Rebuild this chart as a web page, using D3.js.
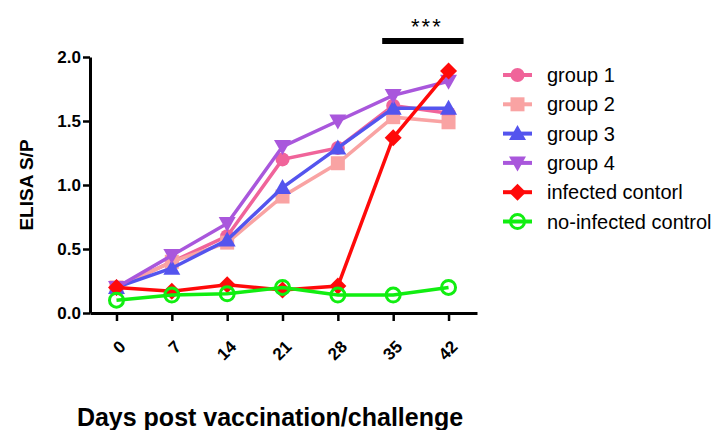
<!DOCTYPE html>
<html>
<head>
<meta charset="utf-8">
<script src="https://cdn.jsdelivr.net/npm/d3@7"></script>
<style>
  body { margin: 0; background: #fff; }
  svg { font-family: "Liberation Sans", Arial, sans-serif; }
</style>
</head>
<body>
<svg id="chart" width="724" height="430"></svg>
<script>
// days post vaccination
var days = [0, 7, 14, 21, 28, 35, 42];
var yTicks = [0, 0.5, 1.0, 1.5, 2.0];

var group1 = [0.20, 0.40, 0.60, 1.20, 1.29, 1.62, 1.56];
var group2 = [0.20, 0.40, 0.55, 0.91, 1.17, 1.53, 1.49];
var group3 = [0.20, 0.35, 0.57, 0.98, 1.29, 1.60, 1.60];
var group4 = [0.20, 0.45, 0.70, 1.30, 1.50, 1.70, 1.81];
var infected = [0.20, 0.17, 0.22, 0.18, 0.21, 1.37, 1.89];
var noInfected = [0.10, 0.14, 0.15, 0.20, 0.14, 0.14, 0.20];

var seriesNames = ["group 1", "group 2", "group 3", "group 4", "infected contorl", "no-infected control"];
var sigRange = [35, 42];
var sigLabel = "***";

var series = [
  {name: seriesNames[0], values: group1, color: "#f0649a", shape: "circle"},
  {name: seriesNames[1], values: group2, color: "#f9a3a3", shape: "square"},
  {name: seriesNames[2], values: group3, color: "#5454ee", shape: "triUp"},
  {name: seriesNames[3], values: group4, color: "#a957dc", shape: "triDown"},
  {name: seriesNames[4], values: infected, color: "#ff0a0a", shape: "diamond"},
  {name: seriesNames[5], values: noInfected, color: "#11ee11", shape: "ring"}
];

var svg = d3.select("#chart");

var x = d3.scaleLinear().domain([-3.35, 45.6]).range([90, 477]);
var y = d3.scaleLinear().domain([0, 2]).range([313, 57]);

// axes
var yAxis = svg.append("g")
  .attr("transform", "translate(90,0)")
  .call(d3.axisLeft(y).tickValues(yTicks).tickFormat(d3.format(".1f")).tickSize(7).tickSizeOuter(0));
yAxis.select(".domain").attr("stroke-width", 3).attr("stroke", "#000");
yAxis.selectAll(".tick line").attr("stroke-width", 2.5);
yAxis.selectAll(".tick text")
  .attr("font-size", 17).attr("font-weight", "bold").attr("fill", "#000")
  .attr("font-family", "Liberation Sans, Arial, sans-serif")
  .attr("x", -9);

var xAxis = svg.append("g")
  .attr("transform", "translate(0,313)")
  .call(d3.axisBottom(x).tickValues(days).tickSize(8).tickSizeOuter(0));
xAxis.select(".domain").attr("stroke-width", 3).attr("stroke", "#000");
xAxis.selectAll(".tick line").attr("stroke-width", 2.5);
xAxis.selectAll(".tick text")
  .attr("font-size", 17).attr("font-weight", "bold").attr("fill", "#000")
  .attr("font-family", "Liberation Sans, Arial, sans-serif")
  .attr("text-anchor", "end")
  .attr("dy", null)
  .attr("transform", "translate(2,27) rotate(-45)");

// axis titles
svg.append("text")
  .attr("transform", "translate(33,185) rotate(-90)")
  .attr("text-anchor", "middle")
  .attr("font-size", 19).attr("font-weight", "bold")
  .text("ELISA S/P");

svg.append("text")
  .attr("x", 270).attr("y", 426)
  .attr("text-anchor", "middle")
  .attr("font-size", 25).attr("font-weight", "bold")
  .text("Days post vaccination/challenge");

// marker drawing
function marker(g, shape, color) {
  if (shape == "circle") {
    g.append("circle").attr("r", 7).attr("fill", color);
  } else if (shape == "square") {
    g.append("rect").attr("x", -7).attr("y", -7).attr("width", 14).attr("height", 14).attr("fill", color);
  } else if (shape == "triUp") {
    g.append("path").attr("d", "M0,-8.5L8.5,6.5L-8.5,6.5Z").attr("fill", color);
  } else if (shape == "triDown") {
    g.append("path").attr("d", "M0,8.5L8.5,-6.5L-8.5,-6.5Z").attr("fill", color);
  } else if (shape == "diamond") {
    g.append("path").attr("d", "M0,-8.5L8.5,0L0,8.5L-8.5,0Z").attr("fill", color);
  } else if (shape == "ring") {
    g.append("circle").attr("r", 7).attr("fill", "none").attr("stroke", color).attr("stroke-width", 3);
  }
}

var line = d3.line()
  .x(function(d, i) { return x(days[i]); })
  .y(function(d) { return y(d); });

series.forEach(function(s) {
  var g = svg.append("g");
  g.append("path")
    .attr("d", line(s.values))
    .attr("fill", "none")
    .attr("stroke", s.color)
    .attr("stroke-width", 3.5);
  s.values.forEach(function(v, i) {
    var m = g.append("g").attr("transform", "translate(" + x(days[i]) + "," + y(v) + ")");
    marker(m, s.shape, s.color);
  });
});

// significance bar
svg.append("rect")
  .attr("x", x(sigRange[0]) - 11).attr("y", 38)
  .attr("width", x(sigRange[1]) - x(sigRange[0]) + 26).attr("height", 6)
  .attr("fill", "#000");
svg.append("text")
  .attr("x", (x(sigRange[0]) + x(sigRange[1])) / 2 + 6).attr("y", 34)
  .attr("text-anchor", "middle")
  .attr("font-size", 22)
  .attr("letter-spacing", 2)
  .text(sigLabel);

// legend
var legend = svg.append("g").attr("transform", "translate(503,75)");
series.forEach(function(s, i) {
  var row = legend.append("g").attr("transform", "translate(0," + (i * 29.3) + ")");
  row.append("line")
    .attr("x1", 0).attr("x2", 29).attr("y1", 0).attr("y2", 0)
    .attr("stroke", s.color).attr("stroke-width", 4);
  var m = row.append("g").attr("transform", "translate(14.5,0)");
  marker(m, s.shape, s.color);
  row.append("text")
    .attr("x", 44).attr("y", 7)
    .attr("font-size", 20)
    .text(s.name);
});
</script>
</body>
</html>
